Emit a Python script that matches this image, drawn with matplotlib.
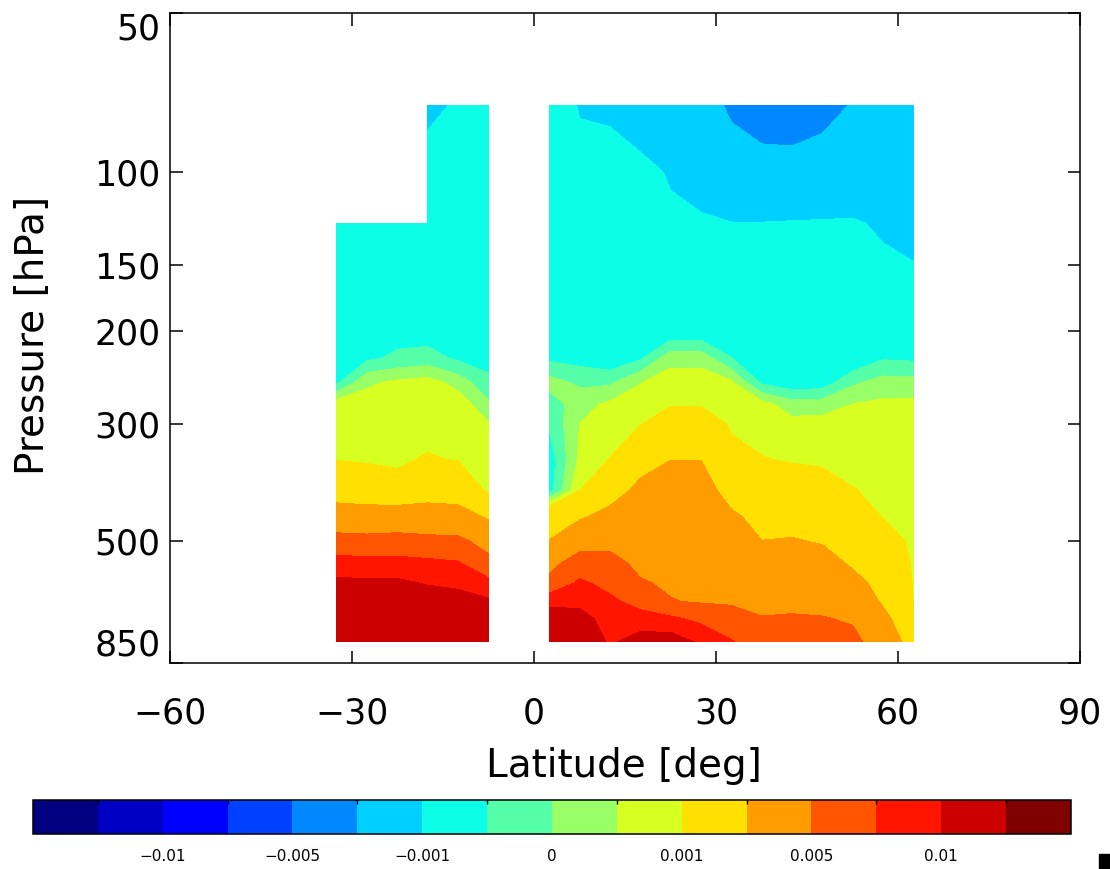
import numpy as np
import matplotlib
matplotlib.use('Agg')
from matplotlib import pyplot as plt
from matplotlib.colors import ListedColormap, BoundaryNorm
from matplotlib.ticker import FixedLocator, NullLocator
from matplotlib.patches import Rectangle

# zonal-mean cross section: latitude (deg) x pressure (hPa); -2.5 has no data
lat = [-32.5, -27.5, -22.5, -17.5, -12.5, -7.5, -2.5, 2.5, 7.5, 12.5,
       17.5, 22.5, 27.5, 32.5, 37.5, 42.5, 47.5, 52.5, 57.5, 62.5]
pres = [75, 100, 125, 150, 175, 200, 225, 250, 275, 300,
        350, 400, 450, 500, 550, 600, 650, 700, 775]

nan = np.nan
# one row per pressure level, values in units of 1e-3
field_e3 = [
    [nan, nan, nan, -1.15, -0.92, -0.8, nan, -0.9, -1.01, -1.02, -1.3, -1.6, -1.9, -2.7, -3.2, -3.3, -3.0, -2.4, -1.8, -1.7],
    [nan, nan, nan, -0.7, -0.85, -0.8, nan, -0.9, -0.95, -0.95, -0.85, -1.05, -1.4, -1.8, -1.9, -1.9, -1.7, -1.5, -1.4, -1.4],
    [-0.8, -0.8, -0.8, -0.8, -0.8, -0.78, nan, -0.9, -0.9, -0.9, -0.8, -0.9, -0.88, -0.98, -0.98, -0.95, -0.94, -0.94, -1.08, -1.2],
    [-0.8, -0.8, -0.78, -0.78, -0.78, -0.76, nan, -0.88, -0.85, -0.85, -0.78, -0.85, -0.82, -0.9, -0.93, -0.9, -0.9, -0.9, -0.9, -0.98],
    [-0.78, -0.78, -0.75, -0.75, -0.75, -0.74, nan, -0.8, -0.8, -0.8, -0.75, -0.8, -0.78, -0.85, -0.9, -0.88, -0.88, -0.88, -0.88, -0.9],
    [-0.75, -0.75, -0.7, -0.75, -0.7, -0.7, nan, -0.7, -0.7, -0.75, -0.7, -0.9, -0.9, -0.8, -0.88, -0.87, -0.86, -0.86, -0.85, -0.85],
    [-0.7, -0.6, -0.4, -0.3, -0.6, -0.65, nan, -0.6, -0.7, -0.9, -0.58, 0.3, 0.3, -0.49, -0.85, -0.85, -0.85, -0.95, -0.55, -0.6],
    [-0.6, 0.4, 0.6, 0.7, 0.3, -0.4, nan, 0.2, -0.1, -0.1, 0.47, 0.8, 0.8, 0.6, -0.6, -0.85, -0.8, -0.1, 0.2, 0.2],
    [0.8, 0.76, 0.7, 0.78, 0.8, 0.1, nan, -0.3, 0.3, 0.6, 0.75, 0.95, 0.95, 0.8, 0.7, 0.2, 0.25, 0.5, 0.6, 0.6],
    [0.85, 0.85, 0.8, 0.85, 0.85, 0.55, nan, -0.45, 0.5, 0.7, 0.97, 1.4, 1.4, 0.93, 0.8, 0.7, 0.7, 0.7, 0.7, 0.7],
    [0.97, 0.9, 0.94, 1.04, 0.97, 0.8, nan, -0.8, 0.6, 1.02, 1.9, 2.48, 2.48, 1.2, 1.03, 0.95, 0.9, 0.85, 0.8, 0.75],
    [1.9, 1.7, 1.15, 1.9, 1.6, 0.88, nan, -0.75, 0.98, 1.7, 2.9, 3.4, 3.3, 1.8, 1.5, 1.4, 1.3, 1.02, 0.9, 0.8],
    [3.2, 3.2, 3.6, 3.2, 3.3, 2.3, nan, 2.2, 2.3, 3.1, 3.5, 3.9, 3.8, 2.8, 2.0, 2.0, 1.8, 1.5, 0.98, 0.85],
    [6.0, 5.8, 5.8, 5.7, 5.5, 4.2, nan, 2.52, 4.0, 4.4, 4.0, 4.2, 4.1, 3.5, 2.52, 2.6, 2.4, 1.9, 1.3, 0.9],
    [8.4, 8.2, 8.3, 8.0, 7.7, 5.6, nan, 4.3, 6.1, 5.7, 4.5, 4.5, 4.4, 4.0, 3.2, 3.3, 3.1, 2.3, 1.7, 0.93],
    [10.7, 10.5, 10.5, 9.8, 9.4, 8.2, nan, 5.6, 7.9, 6.8, 5.2, 4.7, 4.6, 4.4, 3.8, 3.9, 3.8, 3.0, 2.0, 0.96],
    [12.5, 12.2, 12.0, 11.5, 11.2, 10.4, nan, 9.1, 9.3, 8.0, 6.6, 5.1, 4.8, 4.8, 4.4, 4.5, 4.4, 3.8, 2.3, 0.99],
    [13.8, 13.5, 13.2, 12.5, 12.2, 11.8, nan, 11.8, 11.0, 8.9, 8.5, 7.9, 6.9, 5.7, 5.1, 5.2, 5.1, 4.8, 3.0, 1.1],
    [15.0, 14.5, 14.2, 13.5, 13.2, 12.8, nan, 13.5, 12.5, 9.6, 11.2, 11.5, 9.5, 7.7, 5.8, 5.7, 5.5, 5.5, 4.0, 1.6],
]

levels = [-0.05, -0.02, -0.01, -0.0075, -0.005, -0.0025, -0.001, -0.0005, 0.0,
          0.0005, 0.001, 0.0025, 0.005, 0.0075, 0.01, 0.02, 0.05]
colors = ['#000080', '#0000c4', '#0000ff', '#0040ff', '#0088ff', '#00d0ff',
          '#0cffe6', '#55ffaa', '#99ff66', '#d8ff22', '#ffe000', '#ff9c00',
          '#ff5500', '#ff1500', '#cc0000', '#800000']
cbar_ticks = [-0.01, -0.005, -0.001, 0.0, 0.001, 0.005, 0.01]
cbar_labels = ['\u22120.01', '\u22120.005', '\u22120.001', '0', '0.001', '0.005', '0.01']

lat_ticks = [-60, -30, 0, 30, 60, 90]
lat_labels = ['\u221260', '\u221230', '0', '30', '60', '90']
p_ticks = [50, 100, 150, 200, 300, 500, 850]

field = np.ma.masked_invalid(np.array(field_e3) * 1e-3)

fig = plt.figure(figsize=(11.1, 8.69), dpi=100)
ax = fig.add_axes([0.1532, 0.2371, 0.8198, 0.748])

cmap = ListedColormap(colors)
norm = BoundaryNorm(levels, cmap.N)
cs = ax.contourf(lat, pres, field, levels=levels, cmap=cmap, norm=norm,
                 corner_mask=False)

ax.set_yscale('log')
ax.set_ylim(850, 50)
ax.set_xlim(-60, 90)
ax.yaxis.set_major_locator(FixedLocator(p_ticks))
ax.yaxis.set_minor_locator(NullLocator())
ax.set_yticklabels([str(p) for p in p_ticks])
ax.set_xticks(lat_ticks)
ax.set_xticklabels(lat_labels)
ax.tick_params(direction='in', length=9, width=1.1, top=True, right=True,
               labelsize=25)
ax.tick_params(axis='x', pad=24)
ax.tick_params(axis='y', pad=7)
# keep the end labels inside the frame height (50 at top, 850 at bottom)
ylabels = ax.get_yticklabels()
ylabels[0].set_va('top')
ylabels[-1].set_va('bottom')
for sp in ax.spines.values():
    sp.set_linewidth(1.1)

fig.text(0.562, 0.1185, 'Latitude [deg]', ha='center', va='center', fontsize=28)
fig.text(0.0297, 0.6145, 'Pressure [hPa]', ha='center', va='center',
         fontsize=28, rotation=90)

# colour bar along the bottom
cax = fig.add_axes([0.0297, 0.0403, 0.9351, 0.0391])
cb = fig.colorbar(cs, cax=cax, orientation='horizontal', spacing='uniform')
cb.set_ticks(cbar_ticks)
cb.set_ticklabels(cbar_labels)
cb.outline.set_linewidth(1.1)
cax.tick_params(axis='x', length=0, labelsize=11, pad=11)
cax.xaxis.set_minor_locator(FixedLocator(levels[1:-1]))
cax.tick_params(axis='x', which='minor', direction='in', top=True,
                bottom=False, length=3, width=1)

fig.patches.append(Rectangle((1099 / 1110, 0), 11 / 1110, 15 / 869,
                             transform=fig.transFigure, color='black'))

plt.savefig('out.png', dpi=100)
plt.close()
